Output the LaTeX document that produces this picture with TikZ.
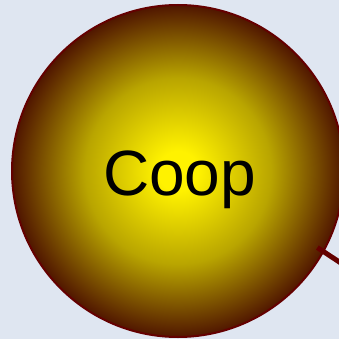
\documentclass[tikz,border=0pt]{standalone}
\usepackage{fontspec}
\setmainfont{Liberation Sans}
\definecolor{canvasblue}{RGB}{223,230,241}
\definecolor{coopyellow}{RGB}{255,242,0}
\definecolor{coopolive}{RGB}{185,165,0}
\definecolor{coopbrown}{RGB}{80,22,0}
\definecolor{linkred}{RGB}{100,0,0}
\pgfdeclareradialshading{coopglow}{\pgfpoint{0bp}{0bp}}{color(0bp)=(coopyellow); color(3bp)=(coopyellow); color(14bp)=(coopolive); color(25bp)=(coopbrown); color(50bp)=(coopbrown)}

\begin{document}
\begin{tikzpicture}[x=1pt, y=-1pt,
    actor/.style={circle, draw=linkred, line width=2pt, shading=coopglow, minimum size=332pt, inner sep=0pt, font=\fontsize{64}{64}\selectfont},
    link/.style={draw=linkred, line width=5pt, shorten <=-8pt}
]
    \fill[canvasblue] (0,0) rectangle (339,339);
    \useasboundingbox (0,0) rectangle (339,339);
    \clip (0,0) rectangle (339,339);

    \node (coop) [actor] at (178,171) {\raisebox{-24pt}[0pt][0pt]{\hspace{3pt}Coop}};
    \coordinate (peer) at (420,315);

    \draw[link] (coop.-29) -- (peer);
\end{tikzpicture}
\end{document}
